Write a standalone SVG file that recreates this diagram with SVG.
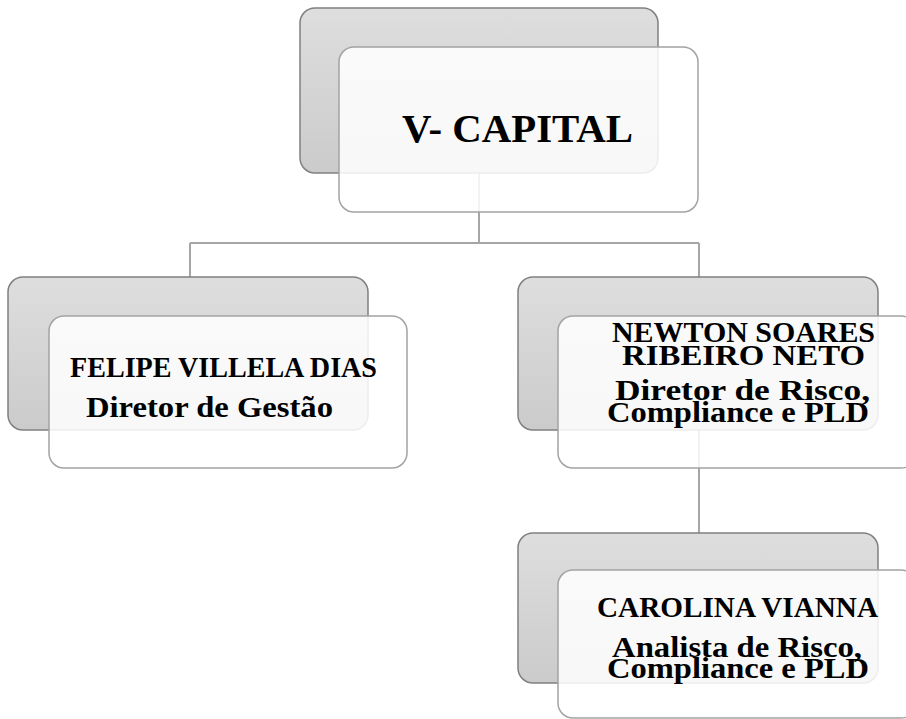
<svg xmlns="http://www.w3.org/2000/svg" width="906" height="719" viewBox="0 0 906 719">
<defs>
<linearGradient id="g" x1="0" y1="0" x2="0" y2="1">
<stop offset="0" stop-color="#dedede"/>
<stop offset="1" stop-color="#cbcbcb"/>
</linearGradient>
<style>
.back{fill:url(#g);stroke:#808080;stroke-width:1.5}
.front{fill:#ffffff;fill-opacity:0.86;stroke:#a3a3a3;stroke-width:1.5}
.conn{fill:none;stroke:#a6a6a6;stroke-width:2}
.lbl{font-family:'Liberation Serif','DejaVu Serif',serif;font-weight:bold;fill:#000}
.t{font-size:29px}
.s{font-size:29px}
</style>
</defs>
<rect width="906" height="719" fill="#ffffff"/>
<g id="connectors">
<path class="conn" d="M479,173 V243 M190,243 H699 M190,243 V277 M699,243 V277 M699,430 V533"/>
</g>
<g id="node-vcapital">
<rect class="back" x="300" y="8" width="358" height="165" rx="15"/>
<rect class="front" x="339" y="47" width="359" height="165" rx="15"/>
<text class="lbl" font-family="Liberation Serif, serif" x="402" y="142" font-size="41" textLength="231" lengthAdjust="spacingAndGlyphs">V- CAPITAL</text>
</g>
<g id="node-felipe" class="lbl" font-family="Liberation Serif, serif">
<rect class="back" x="8" y="277" width="360" height="153" rx="15"/>
<rect class="front" x="49" y="316" width="358" height="152" rx="15"/>
<text class="lbl t" x="70" y="377" textLength="307" lengthAdjust="spacingAndGlyphs">FELIPE VILLELA DIAS</text>
<text class="lbl s" x="86" y="417" textLength="247" lengthAdjust="spacingAndGlyphs">Diretor de Gestão</text>
</g>
<g id="node-newton" class="lbl" font-family="Liberation Serif, serif">
<rect class="back" x="518" y="277" width="360" height="153" rx="15"/>
<rect class="front" x="558" y="316" width="358" height="152" rx="15"/>
<text class="lbl t" x="612" y="342" textLength="263" lengthAdjust="spacingAndGlyphs">NEWTON SOARES</text>
<text class="lbl t" x="622" y="365" textLength="243" lengthAdjust="spacingAndGlyphs">RIBEIRO NETO</text>
<text class="lbl s" x="615" y="400" textLength="255" lengthAdjust="spacingAndGlyphs">Diretor de Risco,</text>
<text class="lbl s" x="607" y="422" textLength="262" lengthAdjust="spacingAndGlyphs">Compliance e PLD</text>
</g>
<g id="node-carolina" class="lbl" font-family="Liberation Serif, serif">
<rect class="back" x="518" y="533" width="360" height="150" rx="15"/>
<rect class="front" x="558" y="570" width="358" height="148" rx="15"/>
<text class="lbl t" x="597" y="617" textLength="281" lengthAdjust="spacingAndGlyphs">CAROLINA VIANNA</text>
<text class="lbl s" x="612" y="657" textLength="250" lengthAdjust="spacingAndGlyphs">Analista de Risco,</text>
<text class="lbl s" x="607" y="678" textLength="262" lengthAdjust="spacingAndGlyphs">Compliance e PLD</text>
</g>
</svg>
